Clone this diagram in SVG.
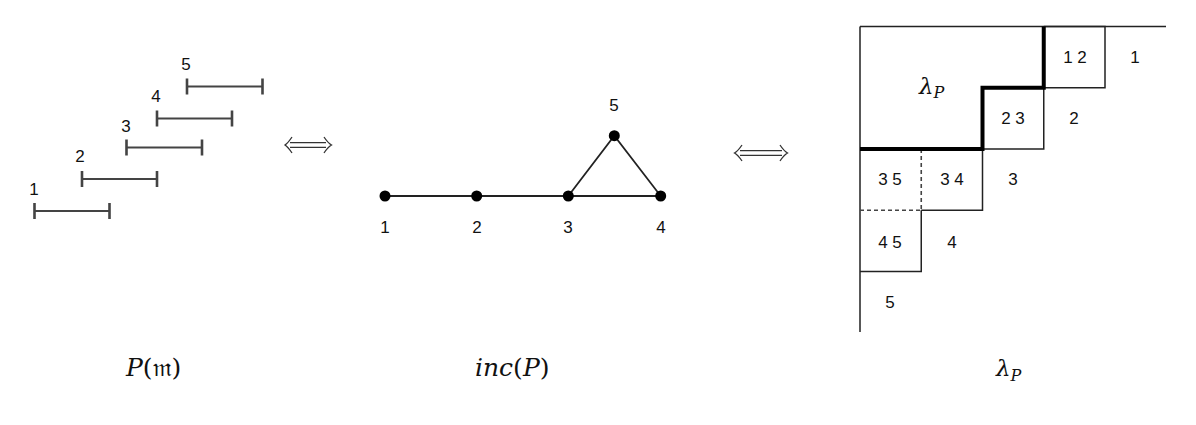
<svg xmlns="http://www.w3.org/2000/svg" width="1196" height="425" viewBox="0 0 1196 425">
<style>
.lbl{font-family:"Liberation Sans",Arial,sans-serif;font-size:17px;fill:#111;text-anchor:middle}
.iv{stroke:#444;stroke-width:2.2;fill:none}
.tk{stroke:#444;stroke-width:2.6;fill:none}
.edge{stroke:#222;stroke-width:1.8;fill:none}
.dot{fill:#000}
.thin{stroke:#222;stroke-width:1.5;fill:none}
.thick{stroke:#000;stroke-width:4;fill:none}
.dash{stroke:#444;stroke-width:1.6;stroke-dasharray:4 3;fill:none}
.arr{stroke:#333;stroke-width:1.3;fill:none}
.math{font-family:"DejaVu Serif","Liberation Serif",serif;fill:#111}
</style>
<rect width="1196" height="425" fill="#fff"/>

<!-- intervals P(m) -->
<g id="interval1"><path class="iv" d="M34.5 211H109.5"/><path class="tk" d="M34.5 203V219M109.5 203V219"/><text class="lbl" x="34" y="195">1</text></g>
<g id="interval2"><path class="iv" d="M82 179H157"/><path class="tk" d="M82 171V187M157 171V187"/><text class="lbl" x="80" y="162">2</text></g>
<g id="interval3"><path class="iv" d="M126.5 147.5H202"/><path class="tk" d="M126.5 139.5V155.5M202 139.5V155.5"/><text class="lbl" x="126" y="132">3</text></g>
<g id="interval4"><path class="iv" d="M157 118.5H232"/><path class="tk" d="M157 110.5V126.5M232 110.5V126.5"/><text class="lbl" x="156" y="102">4</text></g>
<g id="interval5"><path class="iv" d="M187 86.5H262.5"/><path class="tk" d="M187 78.5V94.5M262.5 78.5V94.5"/><text class="lbl" x="186" y="70">5</text></g>

<!-- equivalence arrows -->
<g id="equiv1">
<path class="arr" d="M290 142.7H326M290 147.3H326"/>
<path class="arr" d="M292 137Q288 143 285 145Q288 147 292 153M324 137Q328 143 331.5 145Q328 147 324 153"/>
</g>
<g id="equiv2">
<path class="arr" d="M740 150.7H782M740 155.3H782"/>
<path class="arr" d="M742 145Q738 151 734.5 153Q738 155 742 161M780 145Q784 151 787.5 153Q784 155 780 161"/>
</g>

<!-- graph inc(P) -->
<g id="connectors">
<path class="edge" d="M385 196L476.7 196L568.3 196L660.7 196L614.3 135.7L568.3 196"/>
</g>
<g id="node1"><circle class="dot" cx="385" cy="196" r="5.5"/><text class="lbl" x="385" y="233">1</text></g>
<g id="node2"><circle class="dot" cx="476.7" cy="196" r="5.5"/><text class="lbl" x="477" y="233">2</text></g>
<g id="node3"><circle class="dot" cx="568.3" cy="196" r="5.5"/><text class="lbl" x="568" y="233">3</text></g>
<g id="node4"><circle class="dot" cx="660.7" cy="196" r="5.5"/><text class="lbl" x="661" y="233">4</text></g>
<g id="node5"><circle class="dot" cx="614.3" cy="135.7" r="5.5"/><text class="lbl" x="614" y="111">5</text></g>

<!-- Young-type diagram lambda_P -->
<g id="staircase">
<path class="thin" d="M860 26.5H1166M860 26.5V332"/>
<path class="thin" d="M1043.75 26.5H1105V87.75H1043.75"/>
<path class="thin" d="M1043.75 87.75V149H982.5"/>
<path class="thin" d="M982.5 149V210.25H921.25"/>
<path class="thin" d="M921.25 210.25V271.5H860"/>
<path class="dash" d="M921.25 149V210.25M860 210.25H921.25"/>
<path class="thick" d="M1043.75 26.5V87.75H982.5V149H860"/>
<text class="math" x="919" y="94" font-size="23" font-style="italic">λ<tspan font-size="16" dy="4">P</tspan></text>
<text class="lbl" x="1075" y="63">1 2</text>
<text class="lbl" x="1135" y="63">1</text>
<text class="lbl" x="1013" y="124">2 3</text>
<text class="lbl" x="1074" y="124">2</text>
<text class="lbl" x="890" y="185">3 5</text>
<text class="lbl" x="952" y="185">3 4</text>
<text class="lbl" x="1013" y="185">3</text>
<text class="lbl" x="890" y="248">4 5</text>
<text class="lbl" x="952" y="248">4</text>
<text class="lbl" x="890" y="308">5</text>
</g>

<!-- captions -->
<g id="caption1"><text class="math" x="126" y="376" font-size="25"><tspan font-style="italic">P</tspan>(𝔪)</text></g>
<g id="caption2"><text class="math" x="475" y="376" font-size="25"><tspan font-style="italic">inc</tspan>(<tspan font-style="italic">P</tspan>)</text></g>
<g id="caption3"><text class="math" x="996" y="376" font-size="23" font-style="italic">λ<tspan font-size="16" dy="5">P</tspan></text></g>
</svg>
